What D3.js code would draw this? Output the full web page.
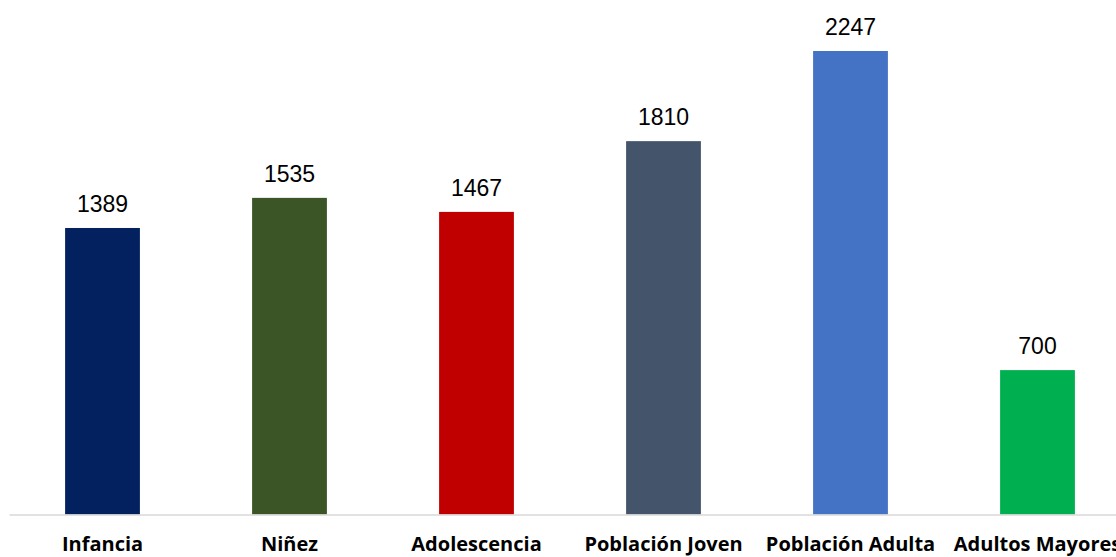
<!DOCTYPE html>
<html lang="es">
<head>
<meta charset="utf-8">
<style>
    body { margin: 0; background: #fff; }
    .value { font: 23px "Liberation Sans", Arial, sans-serif; fill: #000; text-anchor: middle; }
    .cat text { font: bold 20px "Open Sans", sans-serif; fill: #000; }
</style>
<script src="https://d3js.org/d3.v7.min.js"></script>
</head>
<body>
<svg width="1116" height="557"></svg>
<script>
    // datos
    var categories = ["Infancia", "Niñez", "Adolescencia", "Población Joven", "Población Adulta", "Adultos Mayores"];
    var values = [1389, 1535, 1467, 1810, 2247, 700];
    var colors = ["#03215f", "#3b5526", "#c00000", "#44546a", "#4472c4", "#00b050"];

    var svg = d3.select("svg");
    var baseY = 514.5;

    var x = d3.scaleBand()
        .domain(categories)
        .range([9, 1131])
        .paddingInner(0.6)
        .paddingOuter(0.3);

    var y = d3.scaleLinear()
        .domain([0, 2247])
        .range([baseY, 51]);

    var data = categories.map(function(c, i) { return { cat: c, val: values[i], color: colors[i] }; });

    svg.selectAll(".bar")
        .data(data)
        .enter().append("rect")
        .attr("class", "bar")
        .attr("x", function(d) { return x(d.cat); })
        .attr("y", function(d) { return y(d.val); })
        .attr("width", x.bandwidth())
        .attr("height", function(d) { return baseY - y(d.val); })
        .attr("fill", function(d) { return d.color; });

    svg.selectAll(".value")
        .data(data)
        .enter().append("text")
        .attr("class", "value")
        .attr("x", function(d) { return x(d.cat) + x.bandwidth() / 2; })
        .attr("y", function(d) { return y(d.val) - 16; })
        .text(function(d) { return d.val; });

    var axis = d3.axisBottom(x).tickSize(0).tickPadding(22);
    var gx = svg.append("g")
        .attr("class", "cat")
        .attr("transform", "translate(0," + baseY + ")")
        .call(axis);
    gx.select(".domain").attr("stroke", "#d9d9d9").attr("stroke-width", 1.5);
    gx.selectAll("text").attr("dy", "0.71em");
</script>
</body>
</html>
